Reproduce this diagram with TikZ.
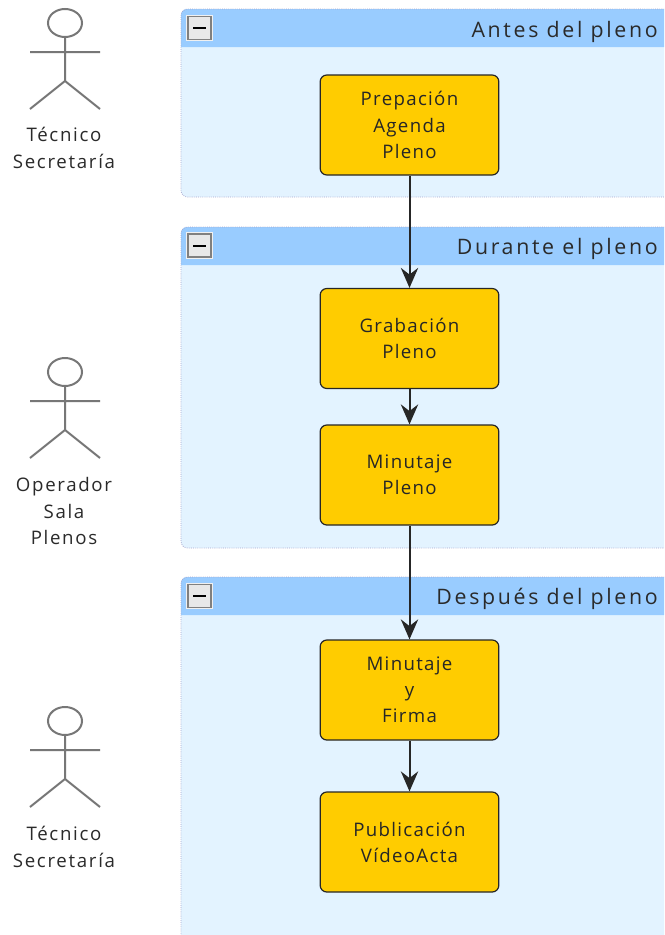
\documentclass[tikz,border=0pt]{standalone}
\usepackage{fontspec}
\setmainfont{Open Sans}
\newfontfamily\spacedtask[LetterSpace=7]{Open Sans}
\newfontfamily\spacedtitle[LetterSpace=12.5]{Open Sans}
\newfontfamily\spacedlabel[LetterSpace=9]{Open Sans}
\usetikzlibrary{arrows.meta}
\definecolor{grpfill}{HTML}{E3F3FF}
\definecolor{grphead}{HTML}{99CCFF}
\definecolor{grpline}{HTML}{A6A6CC}
\definecolor{taskfill}{HTML}{FFCC00}
\definecolor{actorline}{HTML}{777777}
\definecolor{txt}{HTML}{2A2A2A}
\tikzset{
  x=0.75pt,y=-0.75pt,
  taskbox/.style={draw=black!85,line width=0.9pt,fill=taskfill,rounded corners=5pt,minimum width=134pt,minimum height=75pt,inner sep=0pt,align=center,font=\fontsize{14pt}{19.6pt}\selectfont\spacedtask,text=black!85},
  flow/.style={draw=black!85,line width=1.5pt,-{Stealth[length=15pt,width=13pt,inset=5pt]}},
  grouptitle/.style={anchor=east,inner sep=0pt,font=\fontsize{16pt}{18pt}\selectfont\spacedtitle,text=txt},
  actorlabel/.style={align=center,inner sep=0pt,font=\fontsize{14pt}{20pt}\selectfont\spacedlabel,text=txt},
  actorstroke/.style={draw=actorline,line width=1.5pt},
  togglebox/.style={draw=gray,line width=1.2pt,fill=black!9,minimum size=17pt,inner sep=0pt,preaction={draw=black!6,line width=3pt}},
  groupedge/.style={draw=grpline,line width=0.6pt,densely dotted}
}
\newcommand{\groupframe}[3]{%
  \fill[grpfill,rounded corners=5pt] (181,#1) rectangle (690,#3);
  \fill[grphead] (181,#2) -- (181,#1+6) arc[start angle=180,end angle=90,radius=4.5pt] -- (690,#1) -- (690,#2) -- cycle;
  \draw[groupedge,rounded corners=5pt] (690,#1) -- (181,#1) -- (181,#3) -- (690,#3);
}
\newcommand{\stickman}[1]{%
  \begin{scope}[yshift=-#1*0.75pt]
    \draw[actorstroke] (65,23) ellipse[x radius=17,y radius=14];
    \draw[actorstroke] (65,37) -- (65,81) (30,52) -- (100,52) (30,109) -- (65,81) -- (100,109);
  \end{scope}%
}
\begin{document}
\begin{tikzpicture}
\useasboundingbox (0,0) rectangle (664,935);
\fill[white] (0,0) rectangle (664,935);
\begin{scope}
\clip (0,0) rectangle (664,935);
\groupframe{9}{47}{197}
\groupframe{227}{265}{548}
\groupframe{577}{615}{1000}
\end{scope}
\node[togglebox] (t1) at (199.5,28) {};
\node[togglebox] (t2) at (199.5,245.5) {};
\node[togglebox] (t3) at (199.5,596) {};
\foreach \n in {t1,t2,t3}{\fill[black] ([xshift=-5pt]\n.center) ++(0,-1) rectangle ++(13.4,2.4);}
\node[grouptitle] (g1) at (658,31.5) {Antes del pleno};
\node[grouptitle] (g2) at (658,248.5) {Durante el pleno};
\node[grouptitle] (g3) at (658,598.5) {Después del pleno};
\node[taskbox] (a) at (409.5,125) {Prepación\\Agenda\\Pleno};
\node[taskbox] (b) at (409.5,338.5) {Grabación\\Pleno};
\node[taskbox] (c) at (409.5,475) {Minutaje\\Pleno};
\node[taskbox] (d) at (409.5,690) {Minutaje\\y\\Firma};
\node[taskbox] (e) at (409.5,842) {Publicación\\VídeoActa};
\draw[flow] (a) -- (b);
\draw[flow] (b) -- (c);
\draw[flow] (c) -- (d);
\draw[flow] (d) -- (e);
\stickman{0}
\stickman{349}
\stickman{698}
\node[actorlabel] (l1) at (64,148) {Técnico\\Secretaría};
\node[actorlabel] (l2) at (64,511) {Operador\\Sala\\Plenos};
\node[actorlabel] (l3) at (64,847) {Técnico\\Secretaría};
\end{tikzpicture}
\end{document}
